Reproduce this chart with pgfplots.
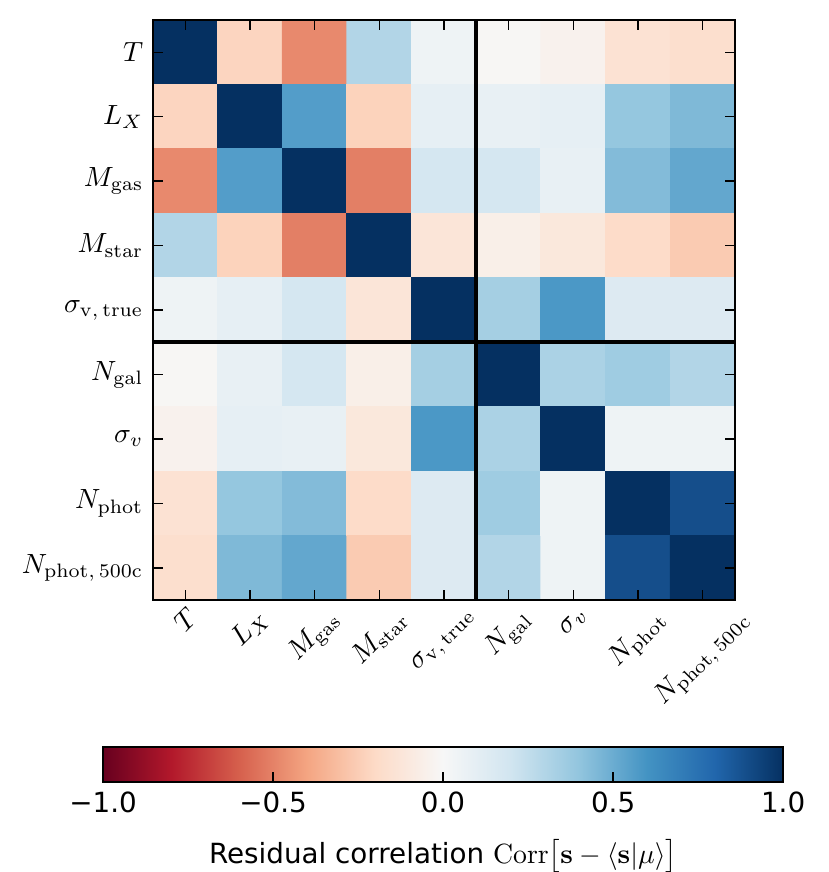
\documentclass[border=0pt]{standalone}
\usepackage[no-math]{fontspec}
\setmainfont{DejaVu Sans}
\usepackage{graphicx}
\usepackage{pgfplots}
\pgfplotsset{compat=1.18}
\begin{document}
\begin{tikzpicture}[font=\fontsize{10}{12}\selectfont]
\path[use as bounding box] (-55.1pt,-97.9pt) rectangle (243.3pt,216pt);
\begin{axis}[
  name=main, at={(0,0)}, anchor=south west,
  scale only axis, width=209.5pt, height=208.8pt,
  axis on top,
  xmin=-0.5, xmax=8.5, ymin=-0.5, ymax=8.5, y dir=reverse,
  xtick={0,1,2,3,4,5,6,7,8}, ytick={0,1,2,3,4,5,6,7,8},
  xticklabels={
    {\rotatebox{45}{$T$}},
    {\rotatebox{45}{$L_X$}},
    {\rotatebox{45}{$M_{\mathrm{gas}}$}},
    {\rotatebox{45}{$M_{\mathrm{star}}$}},
    {\rotatebox{45}{$\sigma_{\mathrm{v},\,\mathrm{true}}$}},
    {\rotatebox{45}{$N_{\mathrm{gal}}$}},
    {\rotatebox{45}{$\sigma_v$}},
    {\rotatebox{45}{$N_{\mathrm{phot}}$}},
    {\rotatebox{45}{$N_{\mathrm{phot},\,500\mathrm{c}}$}}},
  yticklabels={
    {$T$},{$L_X$},{$M_{\mathrm{gas}}$},{$M_{\mathrm{star}}$},
    {$\sigma_{\mathrm{v},\,\mathrm{true}}$},{$N_{\mathrm{gal}}$},{$\sigma_v$},
    {$N_{\mathrm{phot}}$},{$N_{\mathrm{phot},\,500\mathrm{c}}$}},
  xticklabel style={anchor=north, inner sep=2pt},
  yticklabel style={anchor=east},
  tick pos=both, xticklabel pos=lower, yticklabel pos=left,
  tick align=inside, major tick length=3.6pt,
  tick style={line width=0.5pt, black},
  axis line style={line width=0.8pt},
  colormap={rdbu}{rgb255=(103,0,31) rgb255=(178,24,43) rgb255=(214,96,77)
    rgb255=(244,165,130) rgb255=(253,219,199) rgb255=(247,247,247)
    rgb255=(209,229,240) rgb255=(146,197,222) rgb255=(67,147,195)
    rgb255=(33,102,172) rgb255=(5,48,97)},
  point meta min=-1, point meta max=1,
  colorbar horizontal,
  colorbar style={
    at={(parent axis.south west)}, anchor=north west,
    xshift=-18pt, yshift=-44.3pt,
    scale only axis, width=244.8pt, height=12.6pt,
    axis on top,
    xtick={-1,-0.5,0,0.5,1},
    xticklabels={−1.0,−0.5,0.0,0.5,1.0},
    xtick pos=lower, xticklabel pos=lower,
    tick align=inside, major tick length=3.6pt,
    tick style={line width=0.5pt, black},
    axis line style={line width=0.8pt},
    xticklabel style={anchor=north, inner sep=2pt, yshift=-1.5pt},
    xlabel style={yshift=-4pt},
    xlabel={Residual correlation $\mathrm{Corr}\big[\mathbf{s}-\langle\mathbf{s}|\mu\rangle\big]$},
  },
]
\addplot[matrix plot*, mesh/cols=9, point meta=explicit] table[meta=c] {
x y c
0 0 1.00
1 0 -0.22
2 0 -0.48
3 0 0.30
4 0 0.05
5 0 -0.01
6 0 -0.04
7 0 -0.15
8 0 -0.17
0 1 -0.22
1 1 1.00
2 1 0.56
3 1 -0.23
4 1 0.09
5 1 0.08
6 1 0.09
7 1 0.39
8 1 0.45
0 2 -0.48
1 2 0.56
2 2 1.00
3 2 -0.51
4 2 0.18
5 2 0.18
6 2 0.08
7 2 0.44
8 2 0.52
0 3 0.30
1 3 -0.23
2 3 -0.51
3 3 1.00
4 3 -0.13
5 3 -0.06
6 3 -0.11
7 3 -0.19
8 3 -0.26
0 4 0.05
1 4 0.09
2 4 0.18
3 4 -0.13
4 4 1.00
5 4 0.34
6 4 0.58
7 4 0.14
8 4 0.14
0 5 -0.01
1 5 0.08
2 5 0.18
3 5 -0.06
4 5 0.34
5 5 1.00
6 5 0.32
7 5 0.36
8 5 0.30
0 6 -0.04
1 6 0.09
2 6 0.08
3 6 -0.11
4 6 0.58
5 6 0.32
6 6 1.00
7 6 0.05
8 6 0.05
0 7 -0.15
1 7 0.39
2 7 0.44
3 7 -0.19
4 7 0.14
5 7 0.36
6 7 0.05
7 7 1.00
8 7 0.89
0 8 -0.17
1 8 0.45
2 8 0.52
3 8 -0.26
4 8 0.14
5 8 0.30
6 8 0.05
7 8 0.89
8 8 1.00
};
\addplot[black, line width=1.5pt, mark=none] coordinates {(4.5,-0.5) (4.5,8.5)};
\addplot[black, line width=1.5pt, mark=none] coordinates {(-0.5,4.5) (8.5,4.5)};
\end{axis}
\end{tikzpicture}
\end{document}
